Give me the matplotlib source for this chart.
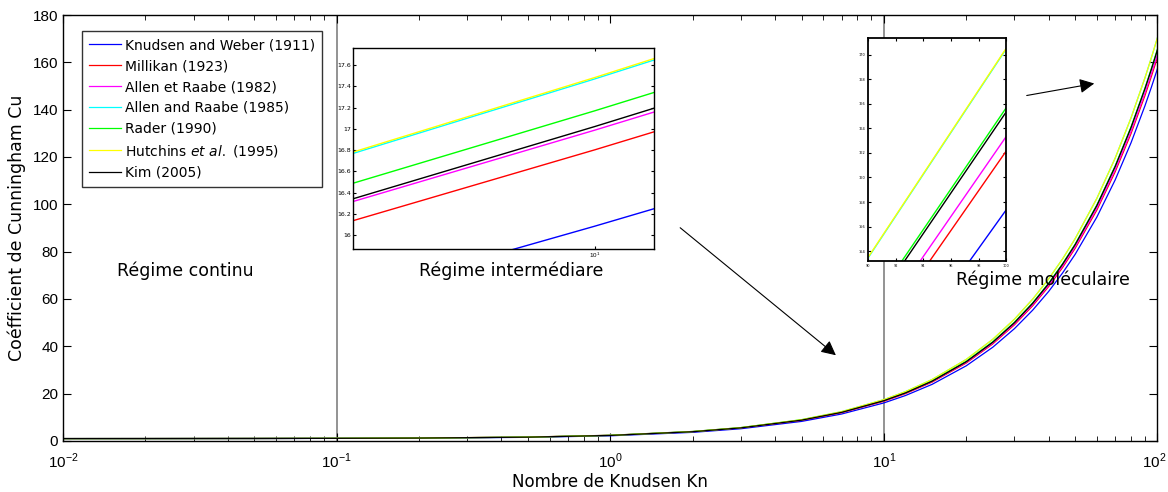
import matplotlib
matplotlib.use('Agg')
import matplotlib.pyplot as plt
import matplotlib.transforms as mtransforms
import numpy as np

plt.rcParams['font.family'] = ['DejaVu Sans']
plt.rcParams['mathtext.fontset'] = 'custom'
plt.rcParams['mathtext.rm'] = 'Liberation Sans'

# Knudsen number grid and Cunningham coefficient read for each correlation
KN = [0.01, 0.02, 0.05, 0.1, 0.2, 0.5, 1, 2, 3, 5, 7, 10, 12, 15, 20, 25,
      30, 35, 40, 45, 50, 60, 70, 80, 90, 95, 100]
CU_KW = [1.010, 1.021, 1.052, 1.103, 1.207, 1.540, 2.192, 3.651, 5.173, 8.270,
         11.390, 16.085, 19.219, 23.923, 31.766, 39.612, 47.460, 55.308, 63.156,
         71.005, 78.855, 94.553, 110.253, 125.952, 141.651, 149.501, 157.351]
CU_MIL = [1.012, 1.024, 1.060, 1.121, 1.243, 1.639, 2.375, 3.938, 5.532, 8.743,
          11.965, 16.803, 20.031, 24.873, 32.945, 41.019, 49.093, 57.167, 65.242,
          73.316, 81.391, 97.540, 113.690, 129.839, 145.989, 154.064, 162.139]
CU_AR82 = [1.012, 1.023, 1.058, 1.116, 1.236, 1.649, 2.415, 4.009, 5.623, 8.865,
           12.113, 16.988, 20.238, 25.115, 33.243, 41.373, 49.502, 57.632, 65.761,
           73.891, 82.021, 98.281, 114.541, 130.800, 147.060, 155.191, 163.320]
CU_AR85 = [1.011, 1.023, 1.057, 1.114, 1.229, 1.609, 2.348, 3.961, 5.626, 8.995,
           12.381, 17.470, 20.865, 25.961, 34.456, 42.954, 51.452, 59.951, 68.449,
           76.949, 85.448, 102.447, 119.446, 136.446, 153.446, 161.945, 170.445]
CU_RAD = [1.012, 1.024, 1.060, 1.121, 1.244, 1.651, 2.411, 4.015, 5.647, 8.932,
          12.225, 17.170, 20.467, 25.415, 33.663, 41.912, 50.161, 58.410, 66.660,
          74.909, 83.159, 99.659, 116.158, 132.658, 149.158, 157.408, 165.658]
CU_HUT = [1.012, 1.025, 1.062, 1.123, 1.246, 1.638, 2.376, 3.983, 5.644, 9.010,
          12.395, 17.483, 20.879, 25.975, 34.473, 42.972, 51.473, 59.974, 68.475,
          76.976, 85.479, 102.482, 119.486, 136.491, 153.495, 161.997, 170.500]
CU_KIM = [1.012, 1.023, 1.058, 1.117, 1.234, 1.615, 2.343, 3.917, 5.534, 8.803,
          12.087, 17.022, 20.314, 25.254, 33.490, 41.728, 49.967, 58.205, 66.444,
          74.683, 82.924, 99.402, 115.882, 132.362, 148.841, 157.081, 165.321]

# zoom around Kn = 10
ZOOM_KN = [9.5, 10.0, 10.2]
Z_KW = [15.302, 16.085, 16.398]
Z_MIL = [15.996, 16.803, 17.126]
Z_AR82 = [16.175, 16.988, 17.313]
Z_AR85 = [16.621, 17.470, 17.809]
Z_RAD = [16.345, 17.170, 17.499]
Z_HUT = [16.634, 17.483, 17.823]
Z_KIM = [16.199, 17.022, 17.351]

LABELS = ['Knudsen and Weber (1911)', 'Millikan (1923)', 'Allen et Raabe (1982)',
          'Allen and Raabe (1985)', 'Rader (1990)',
          'Hutchins $\\it{et\\ al.}$ (1995)', 'Kim (2005)']
COLORS = ['#0000ff', '#ff0000', '#ff00ff', '#00ffff', '#00ff00', '#ffff00', '#000000']
XTICKS = [0.01, 0.1, 1, 10, 100]
XTICKLABELS = ['$10^{-2}$', '$10^{-1}$', '$10^{0}$', '$10^{1}$', '$10^{2}$']

main_series = [CU_KW, CU_MIL, CU_AR82, CU_AR85, CU_RAD, CU_HUT, CU_KIM]
zoom_series = [Z_KW, Z_MIL, Z_AR82, Z_AR85, Z_RAD, Z_HUT, Z_KIM]

fig = plt.figure(figsize=(11.68, 4.92), dpi=100)
ax = fig.add_axes([0.054, 0.1037, 0.937, 0.8658])

for cu, lab, col in zip(main_series, LABELS, COLORS):
    ax.plot(KN, cu, color=col, lw=0.9, label=lab)
ax.axvline(0.1, color='0.5', lw=1.2, zorder=1)
ax.axvline(10, color='0.5', lw=1.2, zorder=1)

ax.set_xscale('log')
ax.set_xlim(0.01, 100)
ax.set_ylim(0, 180)
ax.set_yticks(np.arange(0, 181, 20))
ax.set_xticks(XTICKS)
ax.set_xticklabels(XTICKLABELS)
ax.tick_params(which='both', direction='in', top=True, right=True, labelsize=11)
ax.tick_params(which='major', length=6)
ax.tick_params(which='minor', length=3.5)
ax.tick_params(axis='x', pad=8)
for lbl in ax.get_yticklabels():
    lbl.set_family('Liberation Sans')
last = ax.get_xticklabels()[-1]
last.set_ha('right')
last.set_transform(last.get_transform() +
                   mtransforms.ScaledTranslation(0.09, 0, fig.dpi_scale_trans))
for s in ax.spines.values():
    s.set_linewidth(1.0)

ax.set_xlabel('Nombre de Knudsen Kn', fontsize=12)
ax.set_ylabel('Coéfficient de Cunningham Cu', fontsize=12.5)
ax.xaxis.set_label_coords(0.5, -0.075)
ax.yaxis.set_label_coords(-0.034, 0.5)

leg = ax.legend(loc='upper left', bbox_to_anchor=(0.0174, 0.962), borderaxespad=0,
                fancybox=False, edgecolor='black', fontsize=10, handlelength=2.3,
                labelspacing=0.5, borderpad=0.5, handletextpad=0.3)
leg.get_frame().set_linewidth(1.0)

ax.text(0.028, 72, 'Régime continu', fontsize=12.5, ha='center', va='center')
ax.text(0.436, 72, 'Régime intermédiare', fontsize=12.5, ha='center', va='center')
ax.text(38, 68, 'Régime moléculaire', fontsize=12.5, ha='center', va='center')

# inset around Kn = 10
ax1 = fig.add_axes([0.3022, 0.4939, 0.2577, 0.4085])
for cu, col in zip(zoom_series, COLORS):
    ax1.plot(ZOOM_KN, cu, color=col, lw=1.0)
ax1.set_xscale('log')
ax1.set_xlim(9.585, 10.104)
ax1.set_ylim(15.87, 17.76)
ax1.set_xticks([10])
ax1.set_xticklabels(['$10^{1}$'])
ax1.xaxis.set_minor_locator(matplotlib.ticker.NullLocator())
yt = np.round(np.arange(16.0, 17.61, 0.2), 1)
ax1.set_yticks(yt)
ax1.set_yticklabels([('%g' % v) for v in yt])
ax1.tick_params(which='both', direction='in', top=True, right=True, labelsize=4.5,
                length=2.5, pad=1.5)
for s in ax1.spines.values():
    s.set_linewidth(1.0)

# inset around Kn = 100
ax2 = fig.add_axes([0.7432, 0.4695, 0.1182, 0.4533])
for cu, col in zip(main_series, COLORS):
    ax2.plot(KN, cu, color=col, lw=1.0)
ax2.set_xlim(90, 100)
ax2.set_ylim(153.2, 171.35)
ax2.set_xticks(np.arange(90, 101, 2))
ax2.set_yticks(np.arange(154, 171, 2))
ax2.tick_params(which='both', direction='in', top=True, right=True, labelsize=2.5,
                length=2.5, pad=2)
for s in ax2.spines.values():
    s.set_linewidth(1.3)

fig.patches.append(matplotlib.patches.FancyArrowPatch(
    (0.5805, 0.5407), (0.7175, 0.2744), transform=fig.transFigure,
    arrowstyle='-|>', mutation_scale=22, lw=0.8, color='black'))
fig.patches.append(matplotlib.patches.FancyArrowPatch(
    (0.8767, 0.8049), (0.9392, 0.8313), transform=fig.transFigure,
    arrowstyle='-|>', mutation_scale=22, lw=0.8, color='black'))

fig.savefig('out.png', dpi=100)
